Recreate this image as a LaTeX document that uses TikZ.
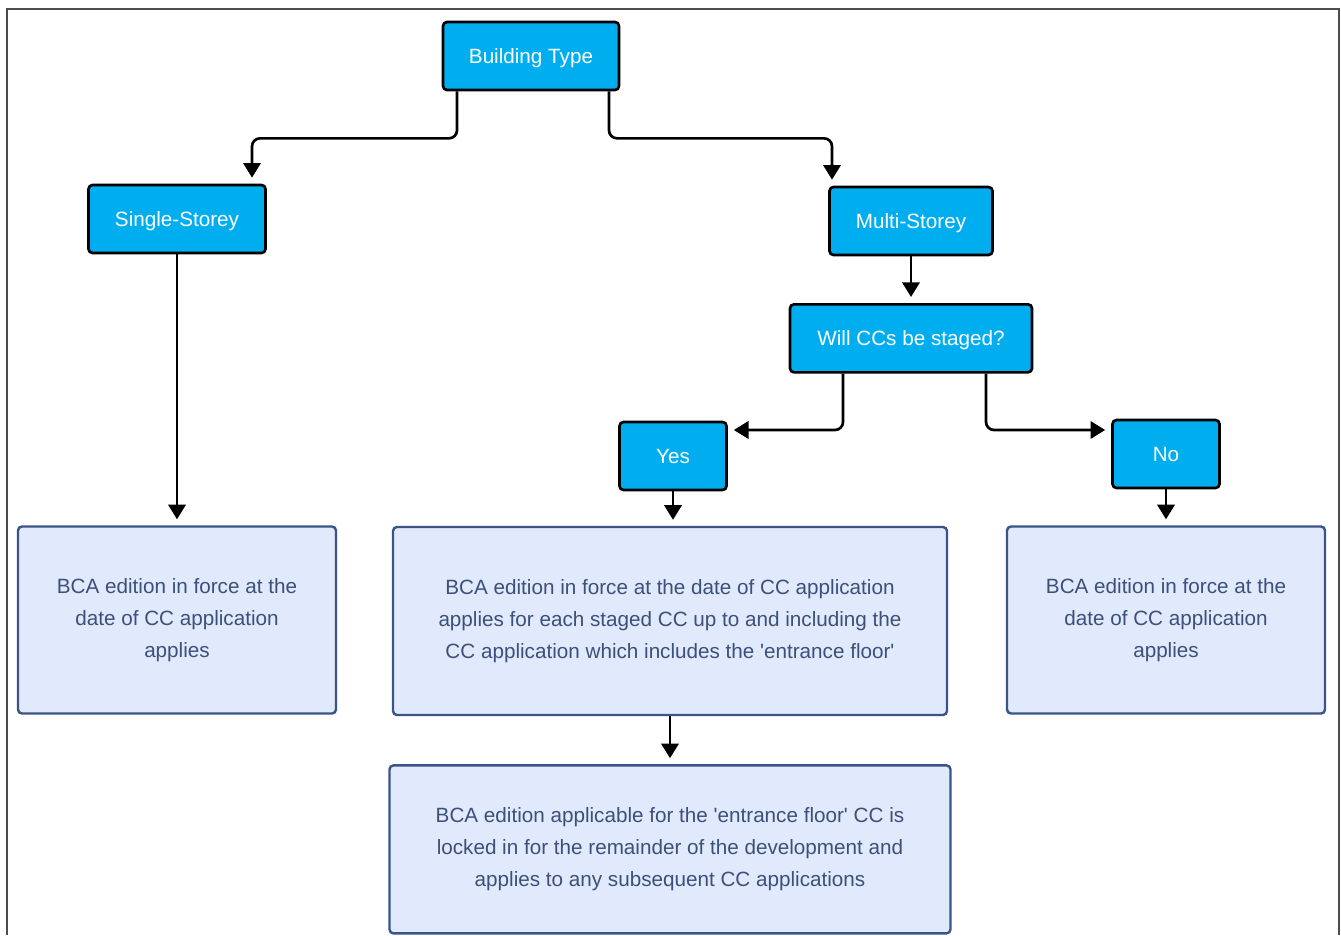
\documentclass[tikz,border=0pt]{standalone}
\usepackage{fontspec}
\setmainfont{Liberation Sans}
\usetikzlibrary{arrows.meta,positioning}
\definecolor{choiceblue}{RGB}{0,174,239}
\definecolor{outcomefill}{RGB}{225,233,252}
\definecolor{outcomeline}{RGB}{58,84,135}
\definecolor{outcometext}{RGB}{60,80,122}
\tikzset{choice/.style={rectangle,rounded corners=3pt,draw=black,fill=choiceblue,line width=2pt,text=white,font=\fontsize{15.5}{24}\selectfont,minimum height=51pt,inner sep=0pt,text height=11.3pt,text depth=0pt}}
\tikzset{outcome/.style={rectangle,rounded corners=3pt,draw=outcomeline,fill=outcomefill,line width=1.8pt,text=outcometext,align=center,font=\fontsize{15.5}{24}\selectfont,inner sep=0pt}}
\tikzset{toArrow/.style={-{Triangle[length=11pt,width=13pt]},line width=2pt,rounded corners=6pt,shorten >=4.5pt}}
\tikzset{frame/.style={draw=black!70,line width=1.5pt}}

\begin{document}
\begin{tikzpicture}[x=0.75pt,y=-0.75pt]
\useasboundingbox (0,0) rectangle (1341,935);
\draw[frame] (7,935) -- (7,9) -- (1339,9) -- (1339,935);
\begin{scope}[node distance=35pt]
	\node (bldg) [choice, minimum width=132pt] at (531,56) {Building Type};
	\node (single) [choice, minimum width=132.75pt] at (177,219) {Single-Storey};
	\node (multi) [choice, minimum width=122.25pt] at (911,221) {Multi-Storey};
	\node (staged) [choice, minimum width=181.5pt, below =of multi] {Will CCs be staged?};
	\node (yes) [choice, minimum width=80.25pt] at (673,456) {Yes};
	\node (no) [choice, minimum width=80.25pt] at (1166,454) {No};
	\node (singleres) [outcome, minimum width=238.5pt, minimum height=140.25pt] at (177,620) {BCA edition in force at the\\date of CC application\\applies};
	\node (stagedres) [outcome, minimum width=415.5pt, minimum height=141pt] at (670,621) {BCA edition in force at the date of CC application\\applies for each staged CC up to and including the\\CC application which includes the \textquotesingle entrance floor\textquotesingle};
	\node (nores) [outcome, minimum width=238.5pt, minimum height=140.25pt] at (1166,620) {BCA edition in force at the\\date of CC application\\applies};
	\node (locked) [outcome, minimum width=420.75pt, minimum height=126pt, below =36pt of stagedres] {BCA edition applicable for the \textquotesingle entrance floor\textquotesingle{} CC is\\locked in for the remainder of the development and\\applies to any subsequent CC applications};
\end{scope}
\draw[toArrow] ([shift={(-74,0)}]bldg.south) -- ++(0,47) -| ([shift={(75,0)}]single.north);
\draw[toArrow] ([shift={(78,0)}]bldg.south) -- ++(0,47) -| ([shift={(-79,0)}]multi.north);
\draw[toArrow] (single) -- (singleres);
\draw[toArrow] (multi) -- (staged);
\draw[toArrow] ([shift={(-68,0)}]staged.south) |- ([shift={(0,-26)}]yes.east);
\draw[toArrow] ([shift={(75,0)}]staged.south) |- ([shift={(0,-24)}]no.west);
\draw[toArrow] (yes) -- (yes |- stagedres.north);
\draw[toArrow] (no) -- (nores);
\draw[toArrow] (stagedres) -- (locked);
\end{tikzpicture}
\end{document}
